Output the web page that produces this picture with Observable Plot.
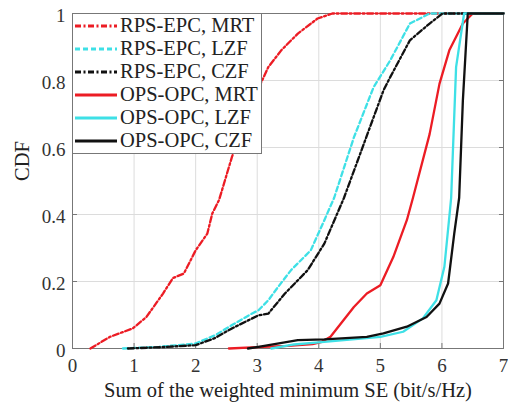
<!DOCTYPE html>
<html><head><meta charset="utf-8">
<script src="https://cdn.jsdelivr.net/npm/d3@7"></script>
<script src="https://cdn.jsdelivr.net/npm/@observablehq/plot@0.6"></script>
<style>
body{margin:0;background:#fff;}
#wrap{position:relative;width:508px;height:403px;font-family:"Liberation Serif","Times New Roman",serif;}
#legend{position:absolute;left:72px;top:13px;width:190px;height:141px;background:#fff;border:1px solid #777;box-sizing:border-box;padding-top:0px;}
.row{display:flex;align-items:center;height:23px;font-size:20.5px;color:#222;white-space:nowrap;}
.row svg{margin-left:2px;margin-right:3px;flex:none;}
</style></head>
<body><div id="wrap"><div id="chart"></div><div id="legend"></div></div>
<script>
const seriesNames = ["RPS-EPC, MRT","RPS-EPC, LZF","RPS-EPC, CZF","OPS-OPC, MRT","OPS-OPC, LZF","OPS-OPC, CZF"];
const seriesColors = ["#ec1c24","#3ee0e6","#111111","#ec1c24","#3ee0e6","#111111"];
const seriesDash = ["6,2.5,2,2.5","5,3","6,2.5,2,2.5",null,null,null];
const xTicks = [0,1,2,3,4,5,6,7];
const yTicks = [0,0.2,0.4,0.6,0.8,1];

const rpsMrtX = [0.29,0.61,0.98,1.2,1.47,1.63,1.81,2.0,2.19,2.27,2.38,2.59,2.8,3.02,3.18,3.39,3.66,3.98,4.22,7.0];
const rpsMrtY = [0,0.035,0.06,0.094,0.164,0.21,0.224,0.293,0.343,0.403,0.443,0.572,0.68,0.776,0.84,0.89,0.94,0.985,1,1];
const rpsLzfX = [0.82,1.41,2.0,2.32,2.59,2.91,3.02,3.18,3.34,3.55,3.87,4.09,4.25,4.57,4.89,5.16,5.48,5.8,7.0];
const rpsLzfY = [0,0.005,0.015,0.04,0.07,0.104,0.114,0.144,0.184,0.234,0.293,0.383,0.45,0.63,0.78,0.86,0.97,1,1];
const rpsCzfX = [0.9,1.45,2.0,2.3,2.59,3.02,3.18,3.45,3.82,4.09,4.41,4.73,5.05,5.16,5.48,5.8,6.01,7.0];
const rpsCzfY = [0,0.004,0.01,0.03,0.06,0.099,0.104,0.164,0.234,0.313,0.45,0.61,0.77,0.81,0.92,0.97,1,1];
const opsMrtX = [2.54,3.0,3.5,3.9,4.05,4.19,4.57,4.78,5.0,5.21,5.43,5.53,5.8,5.96,6.12,6.34,6.5,7.0];
const opsMrtY = [0,0.004,0.008,0.013,0.02,0.035,0.124,0.164,0.189,0.273,0.383,0.45,0.64,0.79,0.89,0.97,1,1];
const opsLzfX = [3.23,3.6,4.09,5.0,5.37,5.69,5.91,6.04,6.12,6.15,6.23,6.36,7.0];
const opsLzfY = [0,0.012,0.02,0.035,0.05,0.09,0.144,0.244,0.393,0.45,0.84,1,1];
const opsCzfX = [2.85,3.02,3.66,4.09,4.78,5.05,5.43,5.75,5.96,6.1,6.2,6.28,6.34,6.42,7.0];
const opsCzfY = [0,0.005,0.025,0.027,0.035,0.045,0.065,0.094,0.134,0.194,0.343,0.45,0.74,1,1];

const xs = [rpsMrtX,rpsLzfX,rpsCzfX,opsMrtX,opsLzfX,opsCzfX];
const ys = [rpsMrtY,rpsLzfY,rpsCzfY,opsMrtY,opsLzfY,opsCzfY];

const lineMarks = xs.map((xa,i)=>Plot.line(xa.map((x,j)=>({x, y: ys[i][j]})),
  {x:"x", y:"y", stroke: seriesColors[i], strokeWidth: 2.3, strokeDasharray: seriesDash[i] || undefined}));

const font = '"Liberation Serif","Times New Roman",serif';
const chart = Plot.plot({
  width: 508, height: 403,
  marginLeft: 72, marginRight: 5, marginTop: 13, marginBottom: 55,
  style: {fontFamily: font, fontSize: "19px", color: "#333", background: "#fff"},
  x: {domain: [0,7]},
  y: {domain: [0,1]},
  marks: [
    Plot.gridX(xTicks, {stroke: "#dcdcdc", strokeOpacity: 1}),
    Plot.gridY(yTicks, {stroke: "#dcdcdc", strokeOpacity: 1}),
    Plot.frame({stroke: "#777"}),
    Plot.axisX(xTicks, {tickSize: 0, tickPadding: 10, label: null, tickFormat: d=>String(d), fill:"#333"}),
    Plot.axisY(yTicks, {tickSize: 0, tickPadding: 7, label: null, tickFormat: d=>String(d), fill:"#333", dy: 2}),
    Plot.axisX(xTicks, {tickSize: -5, text: null, label: null, stroke:"#777"}),
    Plot.axisY(yTicks, {tickSize: -5, text: null, label: null, stroke:"#777"}),
    Plot.axisY(yTicks, {anchor:"right", tickSize: -5, text: null, label: null, stroke:"#777"}),
    ...lineMarks,
    Plot.text(["Sum of the weighted minimum SE (bit/s/Hz)"], {frameAnchor: "bottom", lineAnchor: "middle", dy: 42, fontSize: 20.5, fill:"#222"}),
    Plot.text(["CDF"], {frameAnchor: "left", dx: -50, rotate: -90, fontSize: 20.5, fill:"#222"})
  ]
});
document.getElementById("chart").appendChild(chart);

const leg = document.getElementById("legend");
seriesNames.forEach((name,i)=>{
  const row = document.createElement("div");
  row.className = "row";
  row.innerHTML = `<svg width="42" height="10"><line x1="0" y1="5" x2="42" y2="5" stroke="${seriesColors[i]}" stroke-width="2.8" ${seriesDash[i]?`stroke-dasharray="${seriesDash[i]}"`:""}/></svg><span>${name}</span>`;
  leg.appendChild(row);
});
</script></body></html>
